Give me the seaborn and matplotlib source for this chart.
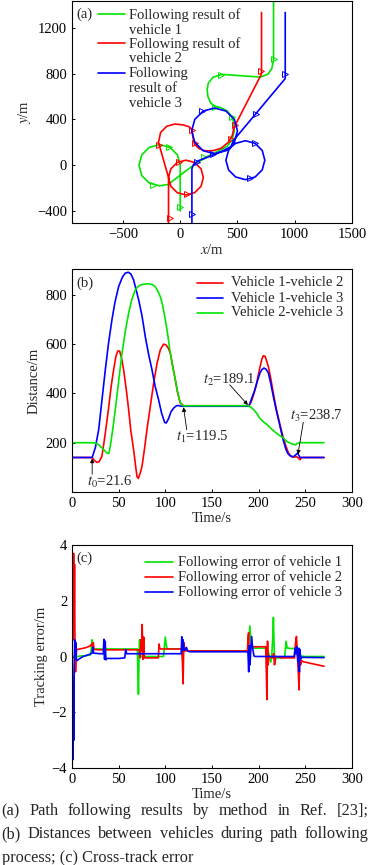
import numpy as np
import matplotlib
matplotlib.use("Agg")
import matplotlib.pyplot as plt
import seaborn as sns
from matplotlib.lines import Line2D

# ---- (a) paths of the three vehicles, (x, y) in m
path_v1 = np.array([(0, -400), (0, 0), (-24, 90), (-90, 156), (-180, 180), (-270, 156), (-336, 90),
                    (-360, 0), (-336, -90), (-270, -156), (-180, -180), (-105, -168), (0, -88), (116, 0),
                    (210, 62), (320, 118), (410, 165), (455, 225), (472, 300), (468, 370), (450, 425),
                    (410, 475), (350, 505), (300, 515), (265, 545), (242, 600), (235, 660), (245, 715),
                    (285, 768), (364, 794), (700, 770), (765, 795), (800, 845), (815, 920), (815, 1500)])
path_v2 = np.array([(-102, -500), (-102, -108), (-82, -32), (-26, 24), (50, 44), (126, 24), (182, -32),
                    (202, -108), (182, -184), (126, -240), (50, -260), (-26, -240), (-82, -184), (-102, -108),
                    (-190, 200), (-171, 287), (-117, 341), (-45, 360), (27, 352), (80, 335), (105, 305),
                    (110, 250), (125, 185), (165, 145), (220, 125), (291, 128), (360, 150), (420, 200),
                    (455, 260), (470, 330), (704, 786), (710, 800), (710, 1335)])
path_v3 = np.array([(102, -500), (102, -30), (118, 10), (160, 40), (320, 102), (420, 150), (449, 164),
                    (422, 129), (399, 44), (422, -41), (484, -103), (569, -126), (654, -103), (716, -41),
                    (739, 44), (716, 129), (654, 191), (569, 214), (484, 191), (449, 164), (473, 200),
                    (500, 300), (473, 400), (400, 473), (300, 500), (200, 473), (127, 400), (100, 300),
                    (127, 200), (200, 127), (300, 100), (400, 127), (441, 159), (466, 218), (917, 757),
                    (917, 1335)])
marks_v1 = np.array([(0, -364), (-240, -170), (-95, 160), (204, 70), (300, 512), (455, 420), (358, 790), (815, 930)])
marks_v2 = np.array([(-93, -462), (-182, 175), (-10, 30), (58, -255), (105, 310), (125, 190), (440, 230),
                     (480, 350), (708, 825)])
marks_v3 = np.array([(102, -428), (150, 30), (285, 100), (655, 195), (605, -115), (663, 448), (917, 800), (190, 470)])

# ---- (b) distances between vehicles, (time s, distance m)
dist_12 = np.array([(0, 140), (21.6, 140), (24, 128), (26.8, 120), (29, 123), (32, 144), (35, 220), (39, 334),
                    (42, 430), (44.6, 496), (47, 550), (49, 572), (51, 572), (53, 545), (55.3, 496), (58, 420),
                    (60.7, 334), (63, 250), (66, 172), (68, 110), (69.6, 63), (71, 55), (73, 75), (75, 104),
                    (77.5, 170), (80.3, 253), (84, 350), (87.5, 442), (91, 520), (94.6, 577), (98, 600),
                    (100.7, 597), (103, 585), (105.3, 564), (108, 510), (110.7, 455), (113, 405), (116, 361),
                    (119.5, 350), (189.1, 350), (192, 365), (195, 400), (198, 445), (201, 500), (203.5, 540),
                    (205, 553), (207, 550), (210.4, 509), (213, 460), (215.7, 401), (219, 335), (222.9, 273),
                    (226, 225), (229.3, 185), (232, 158), (235.4, 142), (238, 142), (240.7, 143), (242.5, 138),
                    (244.3, 131), (246, 140), (270, 140)])
dist_13 = np.array([(0, 140), (21.6, 140), (25, 180), (28.6, 253), (32, 370), (35.7, 496), (39, 600),
                    (42.8, 699), (46, 770), (50, 834), (54, 872), (57, 888), (60.3, 892), (63, 885), (66, 861),
                    (71.4, 780), (75, 715), (78.5, 631), (82, 560), (85.7, 496), (89, 430), (92.8, 374),
                    (96, 320), (99.3, 282), (101, 280), (103.5, 298), (106, 325), (109, 341), (112, 350),
                    (114, 351), (117, 348), (119.5, 348), (189.1, 348), (190, 352), (193, 385), (196, 415),
                    (199, 455), (201.4, 483), (203.5, 497), (205.7, 503), (208, 498), (210.4, 483), (213, 440),
                    (215.7, 388), (219, 330), (222.9, 266), (226, 215), (229.3, 172), (231.5, 155),
                    (233.6, 147), (237.1, 143), (239.5, 150), (241.8, 158), (244.3, 140), (270, 140)])
dist_23 = np.array([(0, 200), (21.6, 200), (25, 198), (28.6, 192), (31, 183), (34, 172), (37.5, 158),
                    (39.5, 157), (41, 185), (43.5, 250), (46.4, 334), (50, 450), (53.6, 564), (57, 650),
                    (60.7, 726), (64, 780), (67.8, 820), (70.5, 833), (73.2, 840), (78, 844), (82, 845),
                    (86, 842), (89, 834), (92, 815), (94.6, 793), (97, 760), (100, 699), (102.5, 640),
                    (105.3, 564), (108, 505), (110.7, 455), (113, 410), (115, 374), (117.8, 352), (119.5, 350),
                    (189.1, 350), (193, 340), (197.9, 320), (201, 300), (205, 285), (208.6, 275), (212, 262),
                    (217, 245), (222.9, 228), (226.4, 220), (230, 205), (234, 198), (237, 194), (239.5, 191),
                    (241, 197), (244, 200), (270, 200)])
# arrow notes: label, text position, arrow tail, arrow head
notes_b = [(r"$t_0$=21.6", (15.7, 39), (21.6, 72), (21.6, 136)),
           (r"$t_1$=119.5", (111.4, 225), (122.9, 253), (119.5, 344)),
           (r"$t_2$=189.1", (140, 455), (169, 435), (188.5, 353)),
           (r"$t_3$=238.7", (233.6, 307), (247.8, 283), (242, 152))]

# ---- (c) cross-track error, (time s, error m)
err_v1 = np.array([(0, 0), (5, 0), (10, 0.02), (15, 0.03), (19.5, 0.05), (20.5, 0.2), (21.5, 0.6), (22.5, 0.3),
                   (23.5, 0.27), (30, 0.27), (50, 0.27), (70, 0.27), (70.6, -0.5), (71.2, -1.35), (71.8, 0.0),
                   (72.4, 0.6), (73, 0.1), (74, 0.0), (80, 0.0), (90, 0.0), (98, 0.0), (99, 0.35), (100, 0.7),
                   (101, 0.4), (102, 0.27), (110, 0.27), (117.5, 0.27), (118.5, 0.15), (119.5, 0.35),
                   (120.5, 0.2), (122, 0.25), (125, 0.2), (150, 0.2), (188.5, 0.2), (189.5, 0.55), (190.5, 1.1),
                   (191.5, 0.6), (193, 0.3), (200, 0.3), (207, 0.3), (209, 0.25), (211, 0.1), (213, -0.2),
                   (214, 0.05), (215, 0.6), (215.8, 1.4), (216.6, 0.3), (217.4, -0.25), (218.5, -0.05),
                   (221, -0.05), (225, -0.05), (228, 0.0), (229.3, 0.55), (230.5, 0.3), (232, 0.3), (236, 0.28),
                   (238.5, 0.3), (239.5, 0.15), (240.5, 0.35), (241.5, 0.05), (243, 0.2), (245, 0.02),
                   (250, 0.0), (260, 0.0), (270, 0.0)])
err_v2 = np.array([(0, 0), (0.5, 1.5), (0.8, 3.0), (1.2, 0.6), (1.7, 3.7), (2.2, 1.2), (2.7, 3.3), (3.2, 0.3),
                   (3.8, -0.55), (4.4, 0.0), (5, 0.25), (10, 0.28), (15, 0.32), (19.5, 0.38), (21, 0.45),
                   (22, 0.35), (22.8, 0.5), (23.5, 0.25), (30, 0.24), (50, 0.24), (72, 0.24), (73, -0.05),
                   (73.8, 0.6), (74.5, 0.2), (75.2, 1.15), (76, -0.1), (76.8, 0.7), (77.5, -0.05), (80, -0.05),
                   (92.5, -0.05), (93.3, 0.45), (94, 0.3), (95, 0.27), (110, 0.27), (117.5, 0.27), (118.3, -0.2),
                   (119, -0.98), (119.8, 0.5), (120.6, 0.2), (125, 0.2), (188, 0.2), (188.6, 0.7), (189.2, 0.85),
                   (190, -0.2), (191, 0.35), (200, 0.35), (207.5, 0.35), (208.2, -0.5), (208.8, -1.55),
                   (209.5, 0.55), (210.2, -0.3), (211, 0.0), (215, -0.05), (216, 0.1), (217, -0.3), (218, 0.0),
                   (225, -0.05), (238.5, -0.05), (239.5, 0.5), (240.5, 0.72), (241.5, 0.1), (242.5, -0.6),
                   (243.3, -1.2), (244, 0.2), (244.8, -0.3), (246, -0.15), (248, -0.19), (270, -0.35)])
err_v3 = np.array([(0, 0), (0.4, -0.5), (0.8, -2.5), (1.2, -3.7), (1.6, -1.0), (2.0, -3.0), (2.4, -0.3),
                   (2.9, 0.6), (3.4, 0.1), (4, 0.5), (4.6, -0.1), (5.5, -0.15), (7, -0.1), (12, 0.0), (19, 0.08),
                   (21.5, 0.12), (22.3, 0.33), (23.2, 0.12), (30, 0.1), (33.5, 0.1), (34.2, 0.62), (34.9, -0.1),
                   (35.6, 0.55), (36.3, -0.12), (37.5, -0.07), (50, -0.07), (56.5, -0.05), (57.5, 0.25),
                   (58.5, 0.1), (70, 0.1), (117, 0.1), (117.6, 0.71), (118.3, 0.2), (119, 0.6), (120, 0.25),
                   (121, 0.23), (122.5, 0.33), (124, 0.2), (126, 0.17), (188.5, 0.17), (189.3, -0.55),
                   (190, 0.4), (190.7, -0.3), (191.5, 0.2), (192.5, 0.72), (193.5, 0.3), (195, 0.02),
                   (196.5, 0.0), (238, 0.0), (239, 0.3), (240, 0.1), (241, 0.35), (242, -0.2), (243, 0.3),
                   (243.6, -0.55), (244.3, 0.25), (245, -0.1), (246, -0.03), (270, -0.04)])

labels_a = ["Following result of\nvehicle 1", "Following result of\nvehicle 2", "Following\nresult of\nvehicle 3"]
labels_b = ["Vehicle 1-vehicle 2", "Vehicle 1-vehicle 3", "Vehicle 2-vehicle 3"]
labels_c = ["Following error of vehicle 1", "Following error of vehicle 2", "Following error of vehicle 3"]
caption = [["(a)", "Path", "following", "results", "by", "method", "in", "Ref.", "[23];"],
           ["(b)", "Distances", "between", "vehicles", "during", "path", "following"],
           ["process; (c) Cross-track error"]]

GREEN, RED, BLUE = "#00e600", "#ff0000", "#0000ff"

sns.set_theme(style="ticks")
plt.rcParams["font.family"] = ["Liberation Serif", "DejaVu Serif"]
plt.rcParams["mathtext.fontset"] = "stix"
plt.rcParams.update({
    "axes.edgecolor": "black", "axes.linewidth": 0.8,
    "xtick.direction": "in", "ytick.direction": "in",
    "xtick.color": "black", "ytick.color": "black",
    "xtick.major.size": 2.5, "ytick.major.size": 2.5,
    "xtick.major.width": 0.7, "ytick.major.width": 0.7,
    "xtick.major.pad": 3.5, "ytick.major.pad": 3.5,
    "xtick.labelsize": 10.5, "ytick.labelsize": 10.5,
})

W, H = 380, 865
fig = plt.figure(figsize=(W / 100, H / 100), dpi=100)


def fx(px):
    return px / W


def fy(py):
    return 1 - py / H


ax_a = fig.add_axes([fx(72), fy(223), 280 / W, 222 / H])
ax_b = fig.add_axes([fx(72), fy(492), 280 / W, 223 / H])
ax_c = fig.add_axes([fx(72), fy(768), 280 / W, 223 / H])

# (a) paths
for path, marks, c in [(path_v1, marks_v1, GREEN), (path_v2, marks_v2, RED), (path_v3, marks_v3, BLUE)]:
    sns.lineplot(x=path[:, 0], y=path[:, 1], sort=False, estimator=None, color=c, lw=1.2, ax=ax_a)
    ax_a.plot(marks[:, 0], marks[:, 1], ls="none", marker=">", mfc="none", mec=c, ms=4, mew=0.7)
ax_a.set_xlim(-945, 1500)
ax_a.set_ylim(-505, 1435)
ax_a.set_xticks([-500, 0, 500, 1000, 1500])
ax_a.set_yticks([-400, 0, 400, 800, 1200])
ax_a.set_xlabel("$x$/m", fontsize=10.5, va="center")
ax_a.set_ylabel("$y$/m", fontsize=10.5, va="center")
ax_a.xaxis.set_label_coords(0.5, -0.121)
ax_a.yaxis.set_label_coords(-0.168, 0.5)

# (b) distances
for d, c in [(dist_12, RED), (dist_13, BLUE), (dist_23, GREEN)]:
    sns.lineplot(x=d[:, 0], y=d[:, 1], sort=False, estimator=None, color=c, lw=1.2, ax=ax_b)
for txt, pos, tail, head in notes_b:
    ax_b.text(pos[0], pos[1], txt, fontsize=10.5, va="center", ha="left")
    ax_b.annotate("", xy=head, xytext=tail,
                  arrowprops=dict(arrowstyle="-|>", color="black", lw=0.6, mutation_scale=6,
                                  shrinkA=0, shrinkB=0))
ax_b.set_xlim(0, 300)
ax_b.set_ylim(0, 905)
ax_b.set_xticks(range(0, 301, 50))
ax_b.set_yticks([200, 400, 600, 800])
ax_b.set_xlabel("Time/s", fontsize=10.5, va="center")
ax_b.set_ylabel("Distance/m", fontsize=10.5, va="center")
ax_b.xaxis.set_label_coords(0.5, -0.118)
ax_b.yaxis.set_label_coords(-0.136, 0.5)

# (c) tracking error
for e, c in [(err_v1, GREEN), (err_v2, RED), (err_v3, BLUE)]:
    sns.lineplot(x=e[:, 0], y=e[:, 1], sort=False, estimator=None, color=c, lw=1.2, ax=ax_c)
ax_c.set_xlim(0, 300)
ax_c.set_ylim(-4, 4)
ax_c.set_xticks(range(0, 301, 50))
ax_c.set_yticks([-4, -2, 0, 2, 4])
ax_c.set_xlabel("Time/s", fontsize=10.5, va="center")
ax_c.set_ylabel("Tracking error/m", fontsize=10.5, va="center")
ax_c.xaxis.set_label_coords(0.5, -0.121)
ax_c.yaxis.set_label_coords(-0.108, 0.5)

for ax in (ax_a, ax_b, ax_c):
    for s in ax.spines.values():
        s.set_visible(True)
    ax.grid(False)

# panel tags and legends, placed in figure pixels
LEG = 10.5
fig.text(fx(76), fy(14), "(a)", fontsize=LEG, va="center")
fig.text(fx(76), fy(283), "(b)", fontsize=LEG, va="center")
fig.text(fx(76), fy(558), "(c)", fontsize=LEG, va="center")

for (y0, lab), c in zip([(14, labels_a[0]), (43, labels_a[1]), (72.5, labels_a[2])], [GREEN, RED, BLUE]):
    fig.add_artist(Line2D([fx(98), fx(125)], [fy(y0), fy(y0)], color=c, lw=1.2))
    for k, line in enumerate(lab.split("\n")):
        fig.text(fx(129), fy(y0 + 1 + 15 * k), line, fontsize=LEG, va="center")

for y0, lab, c in zip([282.5, 297.5, 312.5], labels_b, [RED, BLUE, GREEN]):
    fig.add_artist(Line2D([fx(197), fx(223)], [fy(y0), fy(y0)], color=c, lw=1.2))
    fig.text(fx(230.5), fy(y0 + 0.5), lab, fontsize=LEG, va="center")

for y0, lab, c in zip([561.5, 576.5, 591.5], labels_c, [GREEN, RED, BLUE]):
    fig.add_artist(Line2D([fx(145), fx(173)], [fy(y0), fy(y0)], color=c, lw=1.2))
    fig.text(fx(178.5), fy(y0 + 0.5), lab, fontsize=LEG, va="center")

# caption, first two lines justified
renderer = fig.canvas.get_renderer()
for row, y in zip(caption, [811, 834.5, 857.5]):
    items = [fig.text(0, fy(y), w, fontsize=11.8, va="center") for w in row]
    if len(items) == 1:
        items[0].set_x(fx(1.7))
        continue
    widths = [t.get_window_extent(renderer).width for t in items]
    gap = (368.3 - 1.7 - sum(widths)) / (len(items) - 1)
    x = 1.7
    for t, w in zip(items, widths):
        t.set_x(fx(x))
        x += w + gap

fig.savefig("out.png", dpi=100)
